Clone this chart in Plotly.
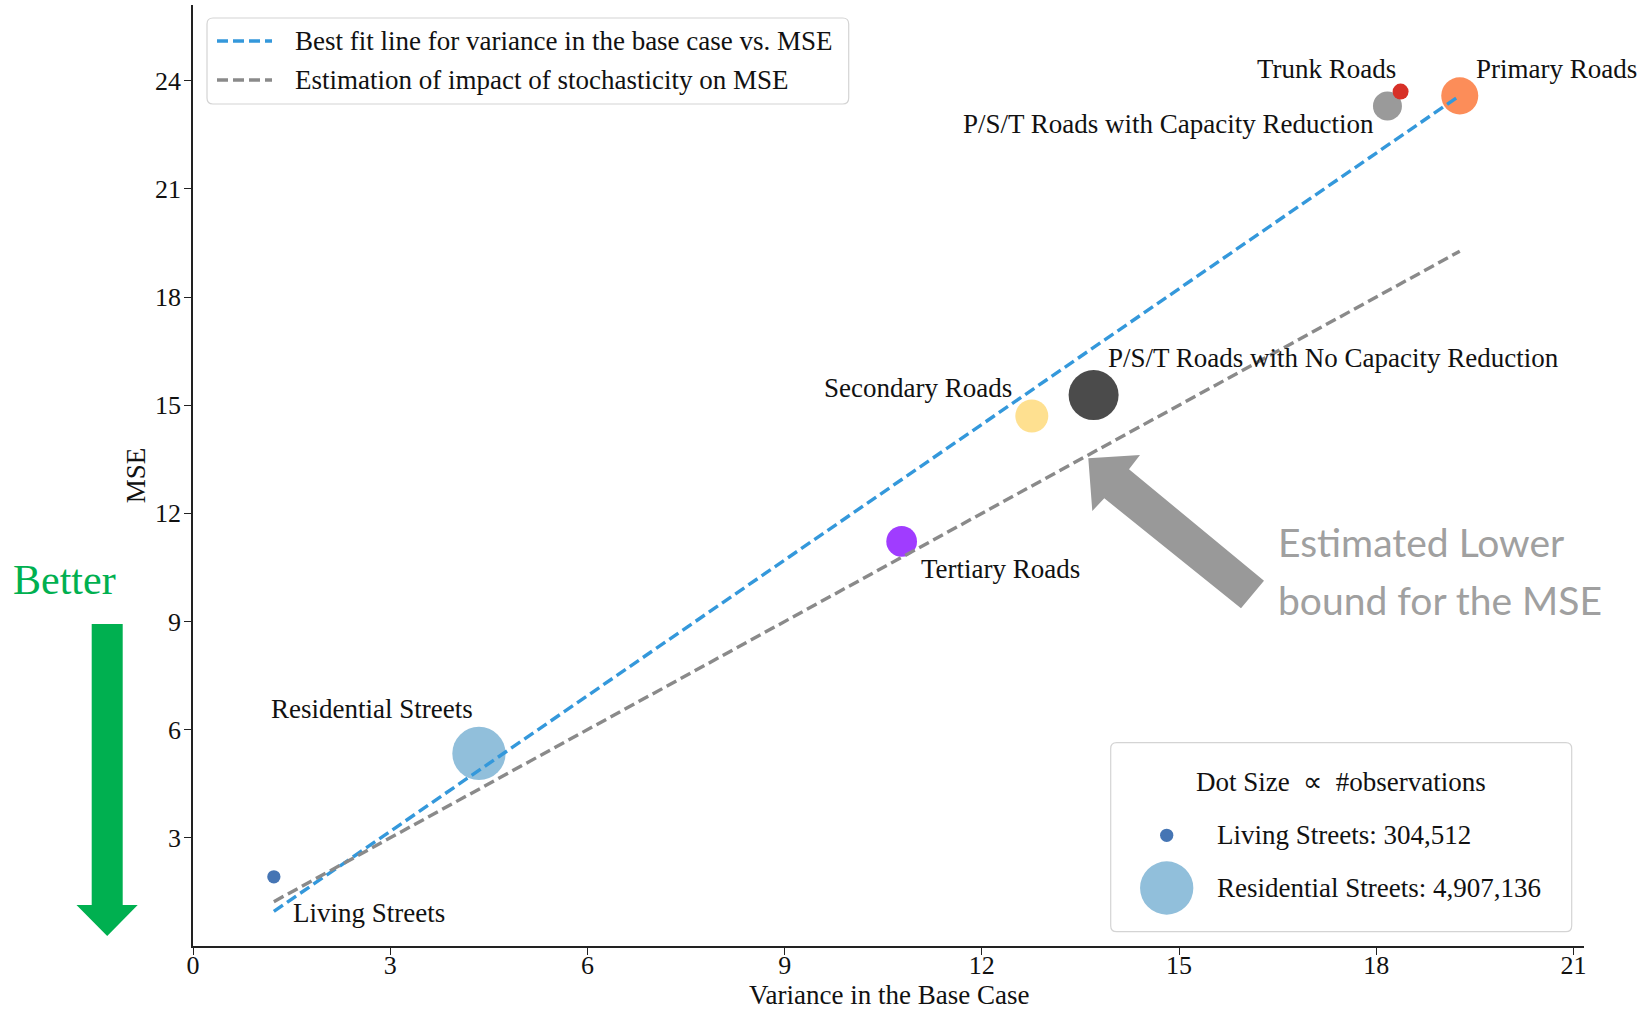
import numpy as np
import plotly.graph_objects as go

# Road categories with base-case variance, MSE and number of observations
categories = [
    "Living Streets",
    "Residential Streets",
    "Tertiary Roads",
    "Secondary Roads",
    "P/S/T Roads with No Capacity Reduction",
    "P/S/T Roads with Capacity Reduction",
    "Trunk Roads",
    "Primary Roads",
]
variance_base = [1.23, 4.35, 10.78, 12.76, 13.70, 18.17, 18.37, 19.27]
mse = [1.92, 5.34, 11.22, 14.70, 15.28, 23.30, 23.70, 23.58]
observations = [304512, 4907136, 1630000, 1880000, 4320000, 1450000, 440000, 2370000]

x_ticks = [0, 3, 6, 9, 12, 15, 18, 21]
y_ticks = [3, 6, 9, 12, 15, 18, 21, 24]

size_legend_names = ["Living Streets", "Residential Streets"]
size_legend_counts = [304512, 4907136]

# ---- styling ----
colors = ["#4575b4", "#91bfdb", "#a03cff", "#fee090", "#4b4b4b", "#9a9a9a", "#d73027", "#fc8d59"]
# label anchor side and pixel offsets from each point
label_style = {
    "Living Streets": ("left", 17, -36),
    "Residential Streets": ("center", -107, 44),
    "Tertiary Roads": ("left", 17, -28),
    "Secondary Roads": ("right", -18, 28),
    "P/S/T Roads with No Capacity Reduction": ("left", 12, 37),
    "P/S/T Roads with Capacity Reduction": ("right", -11, -18),
    "Trunk Roads": ("right", -3, 23),
    "Primary Roads": ("left", 14, 27),
}

SERIF = "Liberation Serif, Times New Roman, serif"
W, H = 1647, 1012
ML, MR, MT, MB = 193, 63, 5, 66
PW, PH = W - ML - MR, H - MT - MB
X_MAX, Y_MAX = 21.16, 26.1

MAX_DIAM = 53.3
sizeref = 2.0 * max(observations) / MAX_DIAM ** 2


def bubble_diameter(n):
    return 2 * np.sqrt(n / (2 * sizeref))


def px(x):
    return (x - ML) / PW


def py(y):
    return (H - MB - y) / PH


fig = go.Figure()

# bubbles
fig.add_trace(go.Scatter(
    x=variance_base, y=mse, mode="markers",
    marker=dict(size=observations, sizemode="area", sizeref=sizeref,
                color=colors, line=dict(width=0), opacity=1),
    showlegend=False, hoverinfo="text", text=categories,
))

# least-squares fit and the y = x lower bound, over the observed variance range
slope, intercept = np.polyfit(variance_base, mse, 1)
xr = np.array([min(variance_base), max(variance_base)])
fig.add_trace(go.Scatter(
    x=xr, y=slope * xr + intercept, mode="lines",
    line=dict(color="#3498db", width=3.4, dash="11px,5px"),
    name="Best fit line for variance in the base case vs. MSE", showlegend=False,
))
fig.add_trace(go.Scatter(
    x=xr, y=xr, mode="lines",
    line=dict(color="#8a8a8a", width=3.4, dash="11px,5px"),
    name="Estimation of impact of stochasticity on MSE", showlegend=False,
))

annotations = []
shapes = []

# point labels
for name, xv, yv in zip(categories, variance_base, mse):
    anchor, dx, dy = label_style[name]
    annotations.append(dict(
        x=xv, y=yv, xref="x", yref="y", text=name, showarrow=False,
        xanchor=anchor, yanchor="middle", xshift=dx, yshift=dy,
        font=dict(family=SERIF, size=27, color="#111111"),
    ))


def rounded_rect(x0, y0, x1, y1, r):
    # pixel coordinates -> paper path with rounded corners
    pts = [
        f"M {px(x0 + r)} {py(y0)}",
        f"L {px(x1 - r)} {py(y0)}",
        f"Q {px(x1)} {py(y0)} {px(x1)} {py(y0 + r)}",
        f"L {px(x1)} {py(y1 - r)}",
        f"Q {px(x1)} {py(y1)} {px(x1 - r)} {py(y1)}",
        f"L {px(x0 + r)} {py(y1)}",
        f"Q {px(x0)} {py(y1)} {px(x0)} {py(y1 - r)}",
        f"L {px(x0)} {py(y0 + r)}",
        f"Q {px(x0)} {py(y0)} {px(x0 + r)} {py(y0)}",
        "Z",
    ]
    return " ".join(pts)


def polygon(points):
    return "M " + " L ".join(f"{px(a)} {py(b)}" for a, b in points) + " Z"


# line legend (top left)
shapes.append(dict(type="path", xref="paper", yref="paper",
                   path=rounded_rect(207, 18, 848.7, 104, 6),
                   fillcolor="rgba(255,255,255,0.85)", line=dict(color="#d4d4d4", width=1.2)))
legend_rows = [
    ("Best fit line for variance in the base case vs. MSE", "#3498db", 41),
    ("Estimation of impact of stochasticity on MSE", "#8a8a8a", 80),
]
for label, col, yy in legend_rows:
    shapes.append(dict(type="line", xref="paper", yref="paper",
                       x0=px(217), x1=px(272), y0=py(yy), y1=py(yy),
                       line=dict(color=col, width=3.4, dash="11px,5px")))
    annotations.append(dict(x=px(293), y=py(yy), xref="paper", yref="paper", text=label,
                            showarrow=False, xanchor="left", yanchor="middle",
                            font=dict(family=SERIF, size=27, color="#111111")))

# dot size legend (bottom right)
shapes.append(dict(type="path", xref="paper", yref="paper",
                   path=rounded_rect(1110.7, 742.7, 1571.7, 931.7, 6),
                   fillcolor="rgba(255,255,255,0.85)", line=dict(color="#d4d4d4", width=1.2)))
annotations.append(dict(x=px(1341), y=py(782), xref="paper", yref="paper",
                        text="Dot Size\u00a0\u00a0\u221d\u00a0\u00a0#observations",
                        showarrow=False, xanchor="center", yanchor="middle",
                        font=dict(family=SERIF, size=27, color="#111111")))
for nm, cnt, yy in zip(size_legend_names, size_legend_counts, [835.3, 888]):
    r = bubble_diameter(cnt) / 2
    shapes.append(dict(type="circle", xref="paper", yref="paper",
                       xsizemode="pixel", ysizemode="pixel",
                       xanchor=px(1166.7), yanchor=py(yy),
                       x0=-r, x1=r, y0=-r, y1=r,
                       fillcolor=colors[categories.index(nm)], line=dict(width=0)))
    annotations.append(dict(x=px(1215), y=py(yy), xref="paper", yref="paper",
                            text=f"{nm}: {cnt:,}", showarrow=False,
                            xanchor="left", yanchor="middle",
                            font=dict(family=SERIF, size=27, color="#111111")))

# "Better" arrow
shapes.append(dict(type="path", xref="paper", yref="paper", line=dict(width=0),
                   fillcolor="#00b050",
                   path=polygon([(91.7, 624), (122.7, 624), (122.7, 905), (137.7, 905),
                                 (107.2, 936), (76.5, 905), (91.7, 905)])))
annotations.append(dict(x=px(64), y=py(580), xref="paper", yref="paper", text="Better",
                        showarrow=False, xanchor="center", yanchor="middle",
                        font=dict(family=SERIF, size=42, color="#00b050")))

# lower-bound callout arrow
shapes.append(dict(type="path", xref="paper", yref="paper", line=dict(width=0),
                   fillcolor="#999999",
                   path=polygon([(1088.3, 458.3), (1140, 455), (1129, 469.3), (1264, 580.7),
                                 (1241, 608.3), (1104.3, 498.3), (1092.3, 511)])))
for txt, yy in [("Estimated Lower", 542), ("bound for the MSE", 600)]:
    annotations.append(dict(x=px(1276), y=py(yy), xref="paper", yref="paper", text=txt,
                            showarrow=False, xanchor="left", yanchor="middle",
                            font=dict(family="Lato, Carlito, sans-serif", size=39, color="#a0a0a0")))

# x-axis title
annotations.append(dict(x=px(888.7), y=py(995), xref="paper", yref="paper",
                        text="Variance in the Base Case", showarrow=False,
                        xanchor="center", yanchor="middle",
                        font=dict(family=SERIF, size=27, color="#111111")))

axis_common = dict(
    showgrid=False, zeroline=False, showline=True, linecolor="#222222", linewidth=1.6,
    ticks="outside", ticklen=7, tickwidth=1.4, tickcolor="#222222",
    tickfont=dict(family=SERIF, size=26, color="#111111"),
)
fig.update_xaxes(range=[0, X_MAX], tickvals=x_ticks, ticktext=[str(t) for t in x_ticks],
                 ticklabelstandoff=-12, **axis_common)
fig.update_yaxes(range=[0, Y_MAX], tickvals=y_ticks, ticktext=[str(t) for t in y_ticks],
                 ticklabelstandoff=-2,
                 title=dict(text="MSE", standoff=2,
                            font=dict(family=SERIF, size=27, color="#111111")),
                 **axis_common)

fig.update_layout(
    width=W, height=H,
    margin=dict(l=ML, r=MR, t=MT, b=MB, autoexpand=False),
    plot_bgcolor="white", paper_bgcolor="white",
    shapes=shapes, annotations=annotations, showlegend=False,
)

fig.write_html("out.html")
